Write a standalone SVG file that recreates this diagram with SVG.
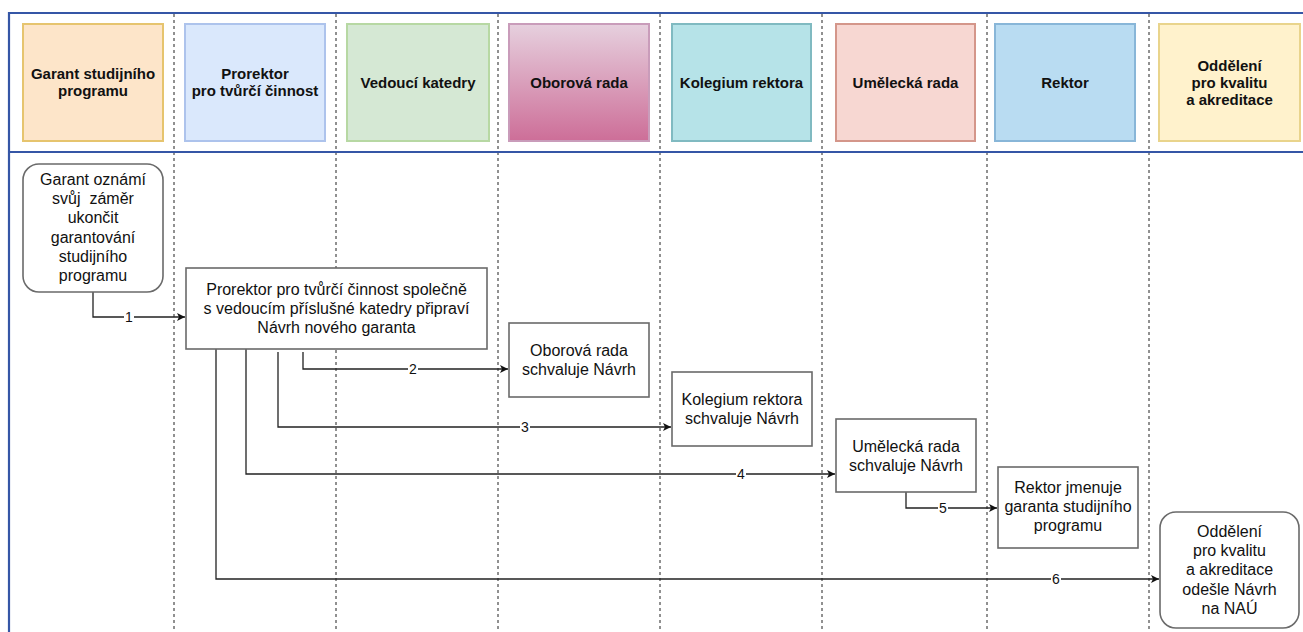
<svg xmlns="http://www.w3.org/2000/svg" width="1303" height="632" viewBox="0 0 1303 632">
<style>
.hdr{stroke-width:2}
.ht{font-family:"Liberation Sans",Arial,sans-serif;font-size:15px;font-weight:bold;fill:#111;text-anchor:middle}
.nt{font-family:"Liberation Sans",Arial,sans-serif;font-size:16px;fill:#111;text-anchor:middle}
.node{fill:#fff;stroke:#6a6a6a;stroke-width:1.6}
.lane{stroke:#222;stroke-width:1;stroke-dasharray:3 3;fill:none}
.border{stroke:#3556a6;stroke-width:2.2;fill:none}
.conn{stroke:#222;stroke-width:1.3;fill:none;marker-end:url(#arr)}
.lbl{font-family:"Liberation Sans",Arial,sans-serif;font-size:14px;fill:#111;text-anchor:middle}
.lblbg{fill:#fff}
</style>
<defs>
<marker id="arr" markerWidth="10" markerHeight="10" refX="9" refY="5" orient="auto" markerUnits="userSpaceOnUse">
<path d="M1,1 L9,5 L1,9 L3,5 Z" fill="#111"/>
</marker>
<linearGradient id="g4" x1="0" y1="0" x2="0" y2="1">
<stop offset="0" stop-color="#e6d0de"/>
<stop offset="1" stop-color="#cd6e98"/>
</linearGradient>
</defs>
<rect width="1303" height="632" fill="#fff"/>
<g id="lanes">
<line class="lane" x1="174" y1="14" x2="174" y2="632"/>
<line class="lane" x1="336" y1="14" x2="336" y2="632"/>
<line class="lane" x1="498" y1="14" x2="498" y2="632"/>
<line class="lane" x1="660" y1="14" x2="660" y2="632"/>
<line class="lane" x1="822" y1="14" x2="822" y2="632"/>
<line class="lane" x1="987" y1="14" x2="987" y2="632"/>
<line class="lane" x1="1149" y1="14" x2="1149" y2="632"/>
</g>
<g id="border">
<path class="border" d="M1303,13 H9 V632"/>
<line class="border" x1="9" y1="152" x2="1303" y2="152"/>
</g>
<g id="h1"><rect class="hdr" x="23" y="24" width="140" height="117" fill="#fde5c9" stroke="#e6c46e"/><text class="ht" x="93" y="79">Garant studijního<tspan x="93" dy="17">programu</tspan></text></g>
<g id="h2"><rect class="hdr" x="185" y="24" width="140" height="117" fill="#dae8fc" stroke="#adc3ec"/><text class="ht" x="255" y="79">Prorektor<tspan x="255" dy="17">pro tvůrčí činnost</tspan></text></g>
<g id="h3"><rect class="hdr" x="347" y="24" width="142" height="117" fill="#d5e8d4" stroke="#b7d8a3"/><text class="ht" x="418" y="88">Vedoucí katedry</text></g>
<g id="h4"><rect class="hdr" x="509" y="24" width="140" height="117" fill="url(#g4)" stroke="#c99cba"/><text class="ht" x="579" y="88">Oborová rada</text></g>
<g id="h5"><rect class="hdr" x="672" y="24" width="139" height="117" fill="#b6e3e8" stroke="#80bac1"/><text class="ht" x="741.5" y="88">Kolegium rektora</text></g>
<g id="h6"><rect class="hdr" x="836" y="24" width="139" height="117" fill="#f7d7d2" stroke="#d4968a"/><text class="ht" x="905.5" y="88">Umělecká rada</text></g>
<g id="h7"><rect class="hdr" x="995" y="24" width="140" height="117" fill="#b9dcf2" stroke="#88b6d8"/><text class="ht" x="1065" y="88">Rektor</text></g>
<g id="h8"><rect class="hdr" x="1159" y="24" width="141" height="117" fill="#fff2cc" stroke="#e9d48c"/><text class="ht" x="1229.5" y="71">Oddělení<tspan x="1229.5" dy="17">pro kvalitu</tspan><tspan x="1229.5" dy="17">a akreditace</tspan></text></g>
<g id="connectors">
<path class="conn" d="M93,292 V317 H185"/>
<path class="conn" d="M303,352 V369 H508"/>
<path class="conn" d="M278,352 V427 H671"/>
<path class="conn" d="M246,349 V474 H835"/>
<path class="conn" d="M906,492 V508 H997"/>
<path class="conn" d="M216,349 V579 H1159"/>
<rect class="lblbg" x="124" y="309" width="10" height="16"/><text class="lbl" x="129" y="322">1</text>
<rect class="lblbg" x="408" y="361" width="10" height="16"/><text class="lbl" x="413" y="374">2</text>
<rect class="lblbg" x="520" y="419" width="10" height="16"/><text class="lbl" x="525" y="432">3</text>
<rect class="lblbg" x="736" y="466" width="10" height="16"/><text class="lbl" x="741" y="479">4</text>
<rect class="lblbg" x="938" y="500" width="10" height="16"/><text class="lbl" x="943" y="513">5</text>
<rect class="lblbg" x="1051" y="571" width="10" height="16"/><text class="lbl" x="1056" y="584">6</text>
</g>
<g id="nA"><rect class="node" x="23" y="164" width="140" height="128" rx="16"/><text class="nt" x="93" y="185" style="white-space:pre">Garant oznámí<tspan x="93" dy="19.2">svůj  záměr</tspan><tspan x="93" dy="19.2">ukončit</tspan><tspan x="93" dy="19.2">garantování</tspan><tspan x="93" dy="19.2">studijního</tspan><tspan x="93" dy="19.2">programu</tspan></text></g>
<g id="nB"><rect class="node" x="186" y="268" width="301" height="81"/><text class="nt" x="336.5" y="295">Prorektor pro tvůrčí činnost společně<tspan x="336.5" dy="19.2">s vedoucím příslušné katedry připraví</tspan><tspan x="336.5" dy="19.2">Návrh nového garanta</tspan></text></g>
<g id="nC"><rect class="node" x="509" y="323" width="140" height="74"/><text class="nt" x="579" y="356">Oborová rada<tspan x="579" dy="19.2">schvaluje Návrh</tspan></text></g>
<g id="nD"><rect class="node" x="672" y="372" width="140" height="74"/><text class="nt" x="742" y="405">Kolegium rektora<tspan x="742" dy="19.2">schvaluje Návrh</tspan></text></g>
<g id="nE"><rect class="node" x="836" y="419" width="140" height="73"/><text class="nt" x="906" y="452">Umělecká rada<tspan x="906" dy="19.2">schvaluje Návrh</tspan></text></g>
<g id="nF"><rect class="node" x="998" y="467" width="140" height="81"/><text class="nt" x="1068" y="493">Rektor jmenuje<tspan x="1068" dy="19.2">garanta studijního</tspan><tspan x="1068" dy="19.2">programu</tspan></text></g>
<g id="nG"><rect class="node" x="1160" y="512" width="139" height="116" rx="16"/><text class="nt" x="1229.5" y="537">Oddělení<tspan x="1229.5" dy="19.2">pro kvalitu</tspan><tspan x="1229.5" dy="19.2">a akreditace</tspan><tspan x="1229.5" dy="19.2">odešle Návrh</tspan><tspan x="1229.5" dy="19.2">na NAÚ</tspan></text></g>
</svg>
